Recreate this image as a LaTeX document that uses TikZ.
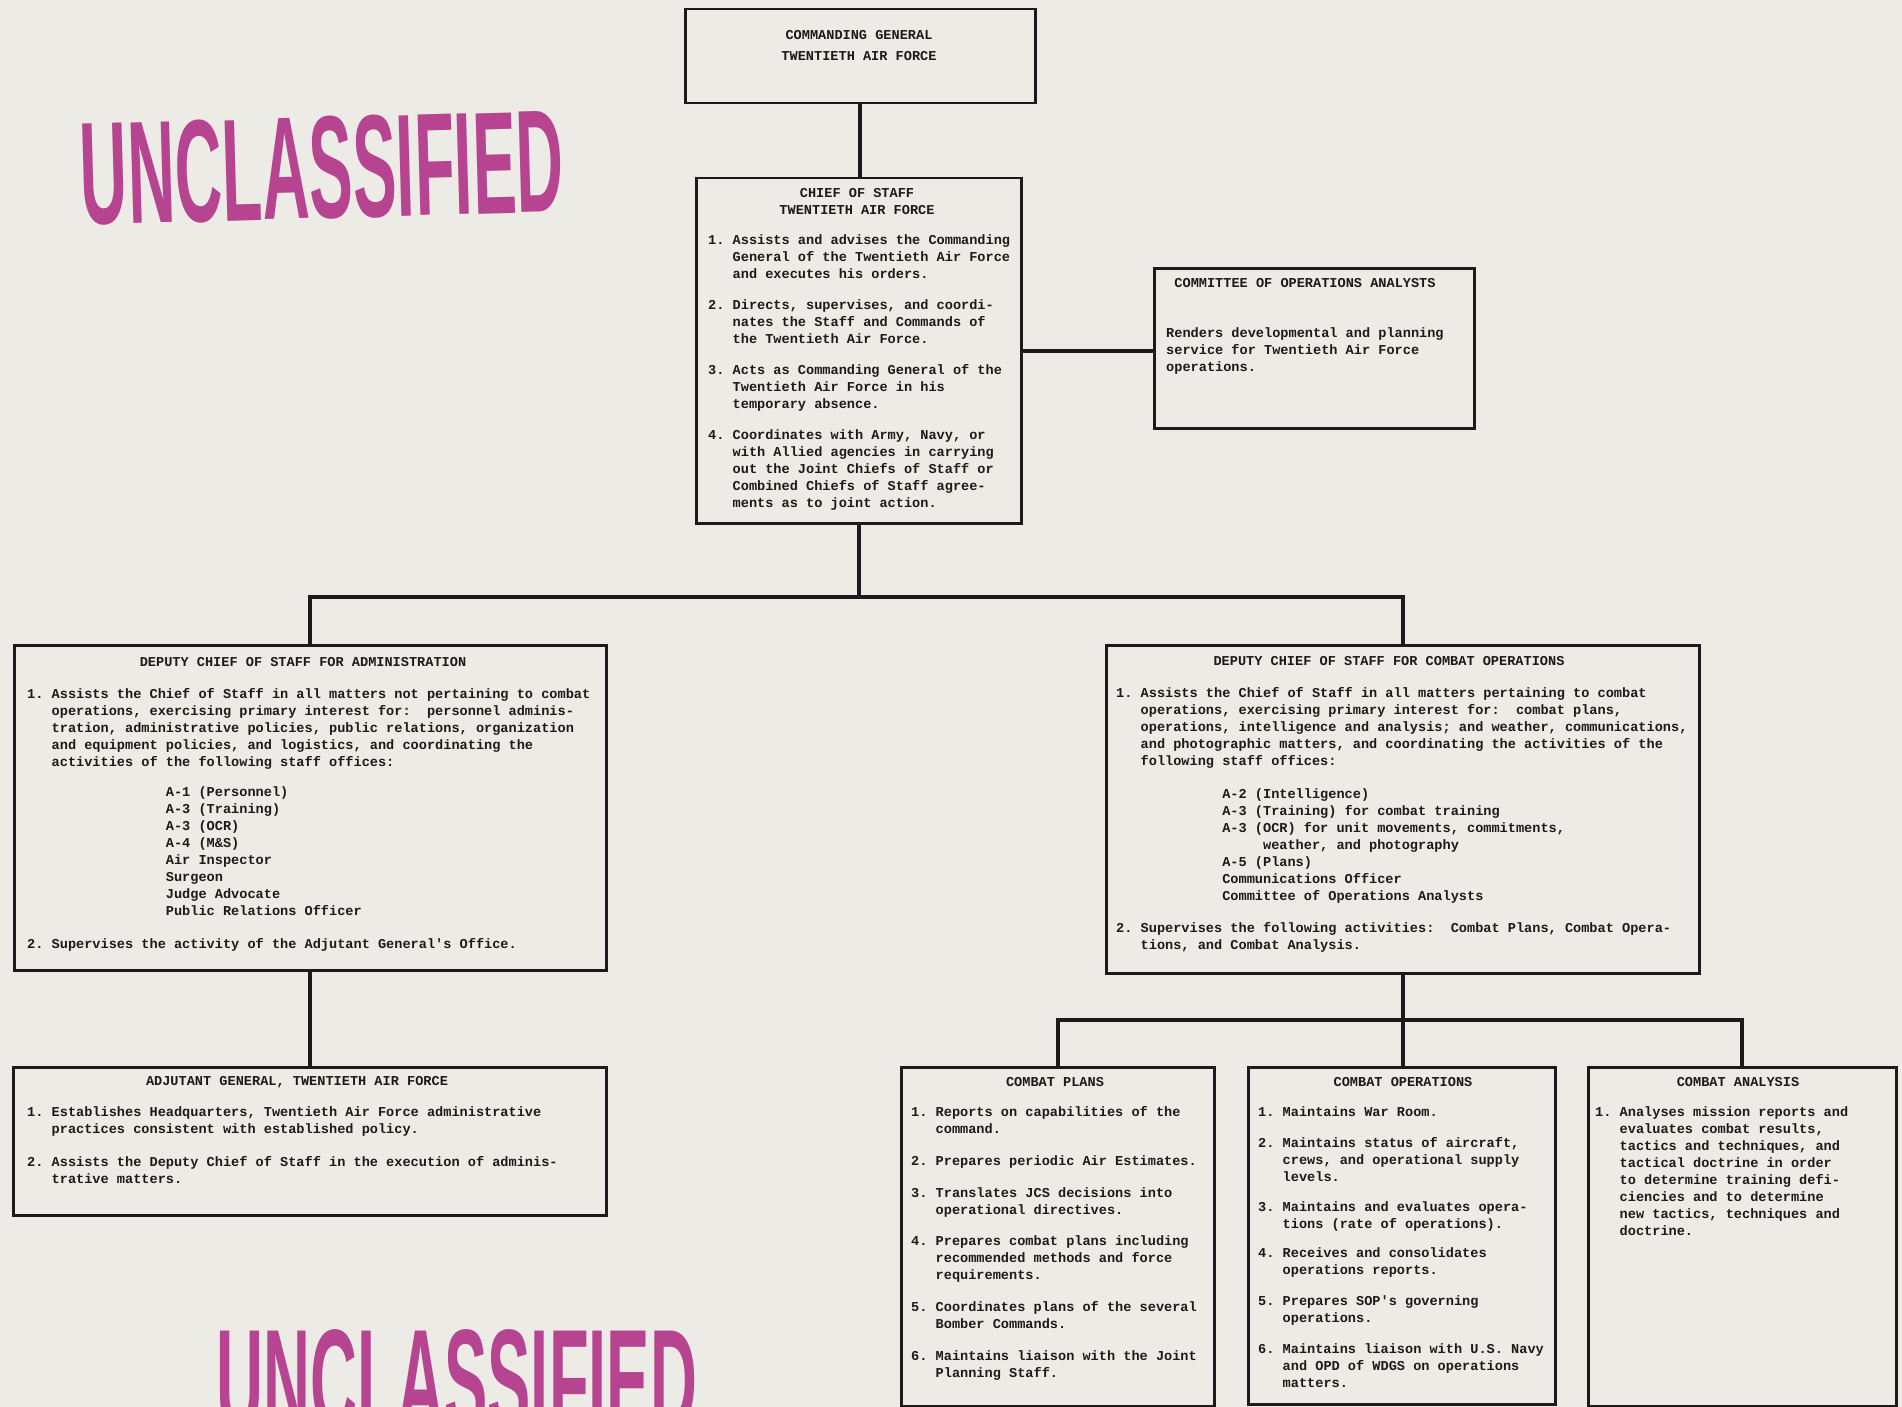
\documentclass[tikz,border=0pt]{standalone}
\usepackage{fontspec}
\newfontfamily\typer{Liberation Mono}
\newfontfamily\stampfont{Liberation Sans}
\usetikzlibrary{positioning}
\definecolor{paper}{RGB}{237,235,229}
\definecolor{ink}{RGB}{28,26,26}
\definecolor{stampink}{RGB}{176,46,134}
\newcommand{\hg}{\hspace*{1.8em}}
\frenchspacing

\tikzset{
  box/.style={draw=ink, line width=2.5pt, anchor=north west, inner sep=0pt},
  link/.style={draw=ink, line width=4pt},
  ttl/.style={text=ink, font=\typer\bfseries\fontsize{13.6}{17}\selectfont, align=center, inner sep=0pt},
  body/.style={text=ink, font=\typer\bfseries\fontsize{13.6}{17}\selectfont, align=left, anchor=north west, inner sep=0pt, execute at begin node=\strut},
  stampmark/.style={text=stampink, opacity=0.88, font=\stampfont\bfseries\fontsize{146}{146}\selectfont, inner sep=0pt}
}

\begin{document}
\begin{tikzpicture}[x=1pt, y=-1pt]
\useasboundingbox (0,0) rectangle (1902,1407);
\fill[paper] (0,0) rectangle (1902,1407);

% boxes
\node[box, minimum width=350pt, minimum height=94pt] (cg) at (684,8) {};
\node[box, minimum width=325pt, minimum height=345pt] (cos) at (695,177) {};
\node[box, minimum width=320pt, minimum height=160pt] (coa) at (1153,267) {};
\node[box, minimum width=592pt, minimum height=325pt] (dadm) at (13,644) {};
\node[box, minimum width=593pt, minimum height=328pt] (dcom) at (1105,644) {};
\node[box, minimum width=593pt, minimum height=148pt] (adj) at (12,1066) {};
\node[box, minimum width=313pt, minimum height=339pt] (cp) at (900,1066) {};
\node[box, minimum width=307pt, minimum height=337pt] (co) at (1247,1066) {};
\node[box, minimum width=308pt, minimum height=339pt] (ca) at (1587,1066) {};

% titles
\node[ttl] (cgT) at (859,46) {COMMANDING GENERAL\\[4pt]TWENTIETH AIR FORCE};
\node[ttl] (cosT) at (857,202) {CHIEF OF STAFF\\TWENTIETH AIR FORCE};
\node[ttl] (coaT) at (1305,283) {COMMITTEE OF OPERATIONS ANALYSTS};
\node[ttl] (dadmT) at (303,662) {DEPUTY CHIEF OF STAFF FOR ADMINISTRATION};
\node[ttl] (dcomT) at (1389,661) {DEPUTY CHIEF OF STAFF FOR COMBAT OPERATIONS};
\node[ttl] (adjT) at (297,1082) {ADJUTANT GENERAL, TWENTIETH AIR FORCE};
\node[ttl] (cpT) at (1055,1082) {COMBAT PLANS};
\node[ttl] (coT) at (1403,1082) {COMBAT OPERATIONS};
\node[ttl] (caT) at (1738,1082) {COMBAT ANALYSIS};

% texts
\node[body] (cosB) at (708,234) {1. Assists and advises the Commanding\\
\hg General of the Twentieth Air Force\\
\hg and executes his orders.\\[14pt]
2. Directs, supervises, and coordi-\\
\hg nates the Staff and Commands of\\
\hg the Twentieth Air Force.\\[14pt]
3. Acts as Commanding General of the\\
\hg Twentieth Air Force in his\\
\hg temporary absence.\\[14pt]
4. Coordinates with Army, Navy, or\\
\hg with Allied agencies in carrying\\
\hg out the Joint Chiefs of Staff or\\
\hg Combined Chiefs of Staff agree-\\
\hg ments as to joint action.};

\node[body] (coaB) at (1166,327) {Renders developmental and planning\\
service for Twentieth Air Force\\
operations.};

\node[body] (dadmB) at (27,688) {1. Assists the Chief of Staff in all matters not pertaining to combat\\
\hg operations, exercising primary interest for:\ \ personnel adminis-\\
\hg tration, administrative policies, public relations, organization\\
\hg and equipment policies, and logistics, and coordinating the\\
\hg activities of the following staff offices:\\[13pt]
\hspace*{10.2em}A-1 (Personnel)\\
\hspace*{10.2em}A-3 (Training)\\
\hspace*{10.2em}A-3 (OCR)\\
\hspace*{10.2em}A-4 (M\&S)\\
\hspace*{10.2em}Air Inspector\\
\hspace*{10.2em}Surgeon\\
\hspace*{10.2em}Judge Advocate\\
\hspace*{10.2em}Public Relations Officer\\[16pt]
2. Supervises the activity of the Adjutant General's Office.};

\node[body] (dcomB) at (1116,687) {1. Assists the Chief of Staff in all matters pertaining to combat\\
\hg operations, exercising primary interest for:\ \ combat plans,\\
\hg operations, intelligence and analysis; and weather, communications,\\
\hg and photographic matters, and coordinating the activities of the\\
\hg following staff offices:\\[16pt]
\hspace*{7.8em}A-2 (Intelligence)\\
\hspace*{7.8em}A-3 (Training) for combat training\\
\hspace*{7.8em}A-3 (OCR) for unit movements, commitments,\\
\hspace*{10.8em}weather, and photography\\
\hspace*{7.8em}A-5 (Plans)\\
\hspace*{7.8em}Communications Officer\\
\hspace*{7.8em}Committee of Operations Analysts\\[15pt]
2. Supervises the following activities:\ \ Combat Plans, Combat Opera-\\
\hg tions, and Combat Analysis.};

\node[body] (adjB) at (27,1106) {1. Establishes Headquarters, Twentieth Air Force administrative\\
\hg practices consistent with established policy.\\[16pt]
2. Assists the Deputy Chief of Staff in the execution of adminis-\\
\hg trative matters.};

\node[body] (cpB) at (911,1106) {1. Reports on capabilities of the\\
\hg command.\\[15pt]
2. Prepares periodic Air Estimates.\\[15pt]
3. Translates JCS decisions into\\
\hg operational directives.\\[14pt]
4. Prepares combat plans including\\
\hg recommended methods and force\\
\hg requirements.\\[15pt]
5. Coordinates plans of the several\\
\hg Bomber Commands.\\[15pt]
6. Maintains liaison with the Joint\\
\hg Planning Staff.};

\node[body] (coB) at (1258,1106) {1. Maintains War Room.\\[14pt]
2. Maintains status of aircraft,\\
\hg crews, and operational supply\\
\hg levels.\\[13pt]
3. Maintains and evaluates opera-\\
\hg tions (rate of operations).\\[12pt]
4. Receives and consolidates\\
\hg operations reports.\\[14pt]
5. Prepares SOP's governing\\
\hg operations.\\[14pt]
6. Maintains liaison with U.S. Navy\\
\hg and OPD of WDGS on operations\\
\hg matters.};

\node[body] (caB) at (1595,1106) {1. Analyses mission reports and\\
\hg evaluates combat results,\\
\hg tactics and techniques, and\\
\hg tactical doctrine in order\\
\hg to determine training defi-\\
\hg ciencies and to determine\\
\hg new tactics, techniques and\\
\hg doctrine.};

% connectors
\draw[link] (cg.south) -- (cg.south |- cos.north);
\draw[link] (cos.east) -- (cos.east -| coa.west);
\coordinate (busA) at (857,597);
\draw[link] (cos.south) -- (cos.south |- busA);
\draw[link] (dadm.north) -- (dadm.north |- busA) -- (dcom.north |- busA) -- (dcom.north);
\draw[link] (dadm.south) -- (dadm.south |- adj.north);
\coordinate (busB) at (1401,1020);
\draw[link] (dcom.south) -- (dcom.south |- co.north);
\draw[link] (cp.north) -- (cp.north |- busB) -- (ca.north |- busB) -- (ca.north);

% stamps
\node[stampmark, rotate=1.6, xscale=0.448] (stampA) at (322,168) {UNCLASSIFIED};
\node[stampmark, xscale=0.445] (stampB) at (457,1381) {UNCLASSIFIED};
\end{tikzpicture}
\end{document}
